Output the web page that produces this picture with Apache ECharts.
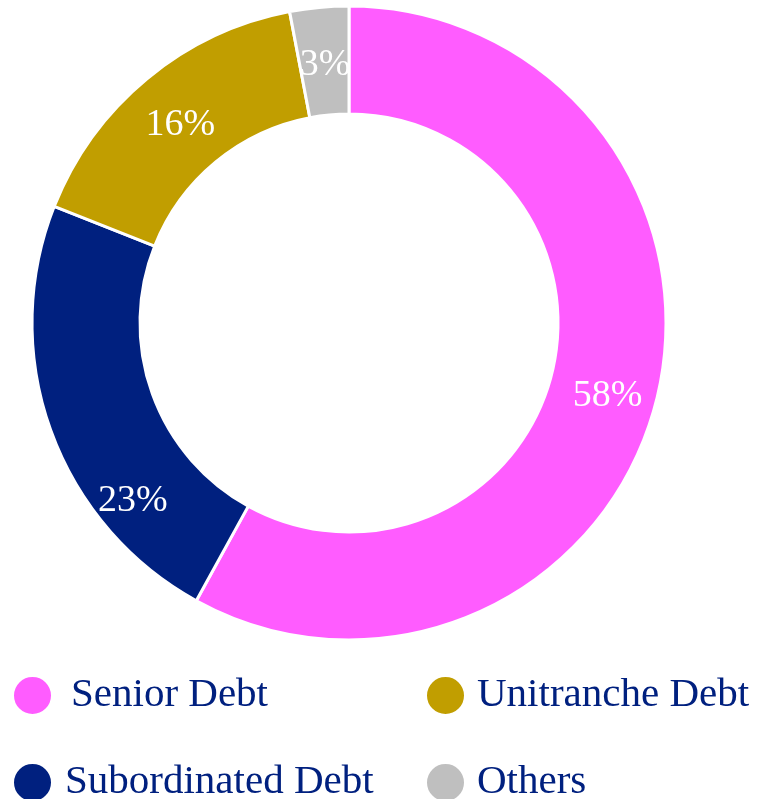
<!DOCTYPE html>
<html>
<head>
<meta charset="utf-8">
<script src="https://cdn.jsdelivr.net/npm/echarts@6/dist/echarts.min.js"></script>
<style>
  html, body { margin: 0; padding: 0; background: #fff; }
  #chart { width: 758px; height: 799px; }
</style>
</head>
<body>
<div id="chart"></div>
<script>
// slices clockwise from 12 o'clock
const names = ['Senior Debt', 'Subordinated Debt', 'Unitranche Debt', 'Others']
const values = [58, 23, 16, 3]
const colors = ['#FF5CFF', '#00207F', '#C19E00', '#BFBFBF']

const serif = 'Liberation Serif, Times New Roman, serif'

// one legend per entry so the two columns line up
function legendItem (name, left, top, gap) {
  return {
    left: left,
    top: top,
    padding: 0,
    itemWidth: 39,
    itemHeight: 39,
    icon: 'circle',
    data: [name],
    textStyle: {
      color: '#00207F',
      fontFamily: serif,
      fontSize: 41,
      lineHeight: 40,
      padding: [0, 0, 0, gap]
    }
  }
}

const chart = echarts.init(document.getElementById('chart'))
chart.setOption({
  animation: false,
  color: colors,
  legend: [
    legendItem('Senior Debt', 12, 675, 14),
    legendItem('Unitranche Debt', 425, 675, 7),
    legendItem('Subordinated Debt', 12, 762, 8),
    legendItem('Others', 425, 762, 7)
  ],
  series: [
    {
      type: 'pie',
      center: [349, 323],
      radius: [209, 317],
      startAngle: 90,
      clockwise: true,
      avoidLabelOverlap: false,
      itemStyle: { borderColor: '#fff', borderWidth: 3 },
      label: {
        show: true,
        position: 'inside',
        formatter: '{c}%',
        color: '#fff',
        fontFamily: serif,
        fontSize: 38,
        offset: [1, 7]
      },
      labelLine: { show: false },
      emphasis: { disabled: true },
      data: names.map((n, i) => {
        const d = { name: n, value: values[i] }
        if (n === 'Subordinated Debt') d.label = { offset: [34, 88] }
        return d
      })
    }
  ]
})
</script>
</body>
</html>
